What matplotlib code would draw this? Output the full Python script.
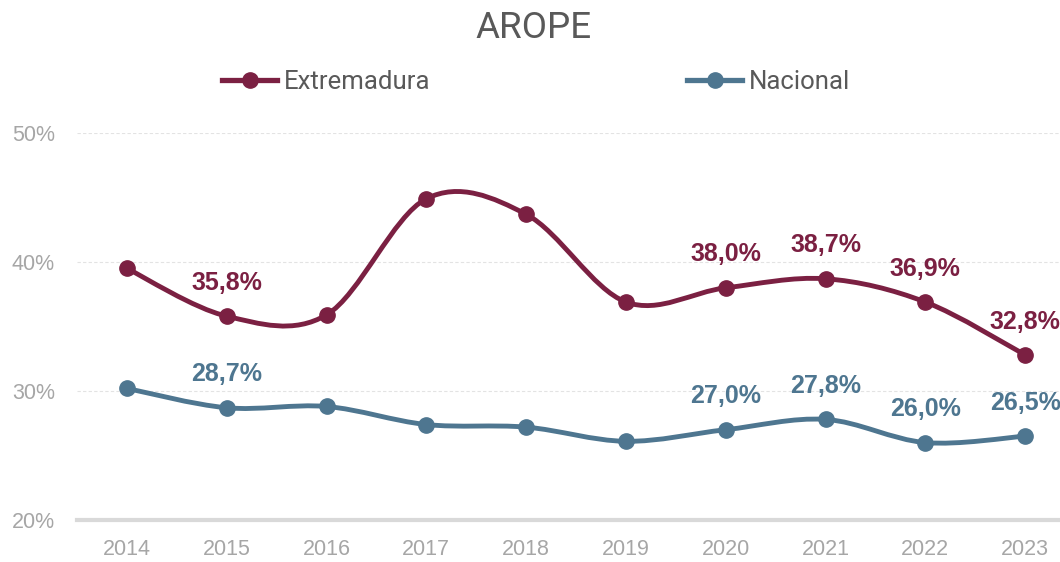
import matplotlib
matplotlib.use("Agg")
import matplotlib.pyplot as plt
from matplotlib.path import Path
import matplotlib.patches as patches
import numpy as np

years = [2014, 2015, 2016, 2017, 2018, 2019, 2020, 2021, 2022, 2023]
extremadura = [39.5, 35.8, 35.9, 44.9, 43.7, 36.9, 38.0, 38.7, 36.9, 32.8]
nacional = [30.2, 28.7, 28.8, 27.4, 27.2, 26.1, 27.0, 27.8, 26.0, 26.5]
labelled_years = [2015, 2020, 2021, 2022, 2023]

C_EXT = "#7B2042"
C_NAC = "#4E7690"
GRAY = "#A6A6A6"

plt.rcParams["font.family"] = ["Liberation Sans", "DejaVu Sans"]


def smooth_path(xs, ys):
    # Excel-like smoothed line: cubic bezier through points (Catmull-Rom control points)
    xs, ys = np.asarray(xs, float), np.asarray(ys, float)
    n = len(xs)
    verts = [(xs[0], ys[0])]
    codes = [Path.MOVETO]
    for i in range(n - 1):
        p0 = np.array([xs[max(i - 1, 0)], ys[max(i - 1, 0)]])
        p1 = np.array([xs[i], ys[i]])
        p2 = np.array([xs[i + 1], ys[i + 1]])
        p3 = np.array([xs[min(i + 2, n - 1)], ys[min(i + 2, n - 1)]])
        c1 = p1 + (p2 - p0) / 6
        c2 = p2 - (p3 - p1) / 6
        verts += [tuple(c1), tuple(c2), tuple(p2)]
        codes += [Path.CURVE4] * 3
    return Path(verts, codes)


fig = plt.figure(figsize=(10.6, 5.62), dpi=100)
ax = fig.add_axes([77 / 1060, 42 / 562, 983 / 1060, 387 / 562])
x = np.arange(len(years))

for vals, col, name in [(extremadura, C_EXT, "Extremadura"), (nacional, C_NAC, "Nacional")]:
    ax.add_patch(patches.PathPatch(smooth_path(x, vals), fill=False, edgecolor=col,
                                   lw=3.5, capstyle="round", joinstyle="round", zorder=3))
    ax.plot(x, vals, "o", color=col, ms=11, zorder=4)
    ax.plot([], [], "-o", color=col, lw=3.8, ms=11, label=name)
    for xi, yr, v in zip(x, years, vals):
        if yr in labelled_years:
            ax.annotate(f"{v:.1f}%".replace(".", ","), (xi, v), xytext=(0, 24),
                        textcoords="offset points", ha="center", va="center",
                        fontsize=18, fontweight="bold", color=col, zorder=5,
                        annotation_clip=False)

ax.set_xlim(-0.5, -0.5 + 983 / 99.8)
ax.set_ylim(20, 50)
ax.set_yticks([20, 30, 40, 50])
ax.set_yticklabels(["20%", "30%", "40%", "50%"])
ax.set_xticks(x)
ax.set_xticklabels([str(y) for y in years])
ax.tick_params(axis="both", length=0, labelsize=15.5, colors=GRAY)
ax.tick_params(axis="y", pad=16)
ax.tick_params(axis="x", pad=14)
for v in [30, 40, 50]:
    ax.axhline(v, color="#E3E3E3", lw=0.8, ls=(0, (3, 2)), zorder=1)
for s in ["top", "right", "left"]:
    ax.spines[s].set_visible(False)
ax.spines["bottom"].set_color("#D9D9D9")
ax.spines["bottom"].set_linewidth(3)

fig.text(533 / 1060, 1 - 28 / 562, "AROPE", ha="center", va="center",
         fontsize=26.5, color="#595959", family=["Roboto", "DejaVu Sans"])
leg = ax.legend(loc="center", bbox_to_anchor=(536 / 1060, 1 - 82 / 562),
                bbox_transform=fig.transFigure, ncol=2, frameon=False,
                handlelength=2.15, handletextpad=0.25, columnspacing=10.0,
                prop={"family": ["Roboto", "DejaVu Sans"], "size": 18.5})
for t in leg.get_texts():
    t.set_color("#595959")

fig.savefig("out.png", dpi=100)
